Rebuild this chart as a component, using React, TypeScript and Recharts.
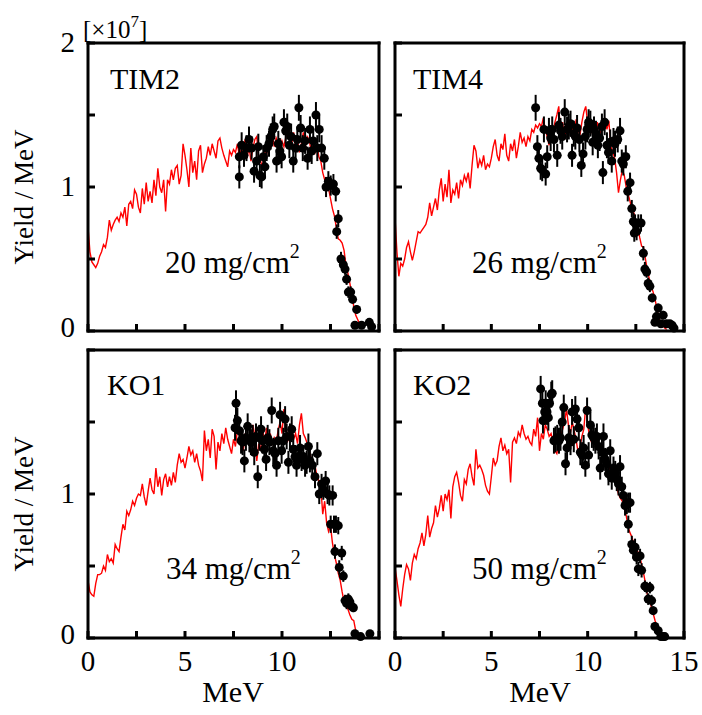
import React from 'react';
import { ComposedChart, Line, Scatter, ErrorBar, XAxis, YAxis } from 'recharts';

// simulated yield, one value per 0.1 MeV bin starting at 0 MeV (units of 1e7 / MeV)
const SIM_STEP = 0.1;

const tim2Sim = [
  0.72, 0.55, 0.48, 0.46, 0.44, 0.47, 0.52, 0.55, 0.60, 0.58,
  0.65, 0.77, 0.70, 0.74, 0.77, 0.79, 0.76, 0.82, 0.79, 0.86,
  0.73, 0.88, 0.90, 0.85, 0.98, 0.95, 0.86, 0.82, 0.99, 0.88,
  1.03, 0.90, 0.97, 0.89, 1.05, 0.94, 1.13, 1.00, 0.96, 1.05,
  0.83, 1.05, 1.02, 1.12, 1.05, 1.13, 1.15, 1.02, 1.08, 1.30,
  1.22, 1.12, 1.00, 1.27, 1.10, 1.18, 1.05, 1.25, 1.29, 1.10,
  1.16, 1.20, 1.28, 1.22, 1.30, 1.25, 1.20, 1.32, 1.34, 1.27,
  1.22, 1.18, 1.14, 1.25, 1.22, 1.26, 1.24, 1.30, 1.22, 1.26,
  1.25, 1.33, 1.20, 1.28, 1.18, 1.27, 1.33, 1.35, 1.20, 1.18,
  1.12, 1.28, 1.22, 1.30, 1.31, 1.36, 1.28, 1.34, 1.30, 1.25,
  1.32, 1.28, 1.35, 1.40, 1.36, 1.30, 1.38, 1.27, 1.33, 1.24,
  1.30, 1.38, 1.28, 1.35, 1.33, 1.25, 1.28, 1.24, 1.30, 1.21,
  1.18, 1.10, 1.05, 1.02, 0.99, 0.92, 0.85, 0.80, 0.72, 0.64,
  0.63, 0.61, 0.56, 0.45, 0.40, 0.33, 0.25, 0.17, 0.11, 0.08,
  0.05, 0.03, 0.02,
];

const tim4Sim = [
  0.79, 0.55, 0.38, 0.47, 0.45, 0.50, 0.58, 0.62, 0.55, 0.49,
  0.55, 0.62, 0.69, 0.68, 0.70, 0.72, 0.74, 0.79, 0.89, 0.80,
  0.86, 0.92, 0.84, 0.98, 1.06, 0.90, 1.02, 0.93, 1.12, 0.89,
  0.98, 0.95, 1.03, 0.92, 1.05, 1.01, 1.08, 1.04, 1.10, 0.99,
  1.15, 1.29, 1.25, 1.13, 1.19, 1.15, 1.22, 1.12, 1.16, 1.14,
  1.20, 1.28, 1.33, 1.22, 1.18, 1.30, 1.26, 1.37, 1.22, 1.18,
  1.30, 1.25, 1.33, 1.20, 1.28, 1.38, 1.31, 1.34, 1.28, 1.35,
  1.32, 1.40, 1.38, 1.43, 1.41, 1.44, 1.42, 1.48, 1.40, 1.35,
  1.29, 1.42, 1.38, 1.45, 1.50, 1.56, 1.35, 1.45, 1.33, 1.40,
  1.46, 1.38, 1.42, 1.35, 1.47, 1.40, 1.36, 1.45, 1.52, 1.56,
  1.45, 1.40, 1.38, 1.42, 1.35, 1.45, 1.40, 1.37, 1.44, 1.48,
  1.40, 1.46, 1.28, 1.25, 1.20, 1.10, 0.96, 1.05, 1.12, 1.08,
  1.00, 0.95, 0.90, 0.84, 0.82, 0.76, 0.72, 0.65, 0.59, 0.58,
  0.50, 0.42, 0.36, 0.31, 0.27, 0.22, 0.15, 0.09, 0.05, 0.04,
  0.02, 0.01,
];

const ko1Sim = [
  0.40, 0.32, 0.30, 0.29, 0.38, 0.44, 0.44, 0.45, 0.50, 0.47,
  0.58, 0.53, 0.55, 0.52, 0.65, 0.62, 0.60, 0.70, 0.79, 0.75,
  0.88, 0.85, 0.89, 0.95, 0.92, 0.97, 1.00, 0.99, 1.07, 0.98,
  0.92, 1.02, 1.11, 1.03, 1.00, 1.18, 1.05, 1.12, 0.99, 1.10,
  1.14, 1.05, 1.12, 1.06, 1.15, 1.08, 1.20, 1.28, 1.22, 1.24,
  1.18, 1.25, 1.33, 1.27, 1.30, 1.22, 1.28, 1.20, 1.16, 1.09,
  1.44, 1.30, 1.38, 1.25, 1.45, 1.40, 1.17, 1.36, 1.30, 1.42,
  1.35, 1.46, 1.38, 1.33, 1.28, 1.38, 1.33, 1.44, 1.46, 1.38,
  1.30, 1.42, 1.36, 1.40, 1.33, 1.48, 1.40, 1.23, 1.35, 1.30,
  1.46, 1.35, 1.46, 1.38, 1.42, 1.34, 1.39, 1.36, 1.44, 1.50,
  1.42, 1.59, 1.48, 1.37, 1.40, 1.45, 1.38, 1.42, 1.35, 1.48,
  1.56, 1.42, 1.39, 1.35, 1.30, 1.25, 1.18, 1.20, 1.12, 1.09,
  1.05, 0.86, 0.95, 0.80, 0.74, 0.78, 0.66, 0.58, 0.52, 0.45,
  0.40, 0.32, 0.25, 0.22, 0.20, 0.16, 0.13, 0.12, 0.05, 0.02,
  0.01,
];

const ko2Sim = [
  0.49, 0.40, 0.30, 0.22, 0.34, 0.44, 0.51, 0.48, 0.40, 0.52,
  0.58, 0.55, 0.62, 0.66, 0.73, 0.64, 0.72, 0.85, 0.70, 0.76,
  0.80, 0.92, 0.84, 0.90, 0.99, 0.88, 1.00, 0.96, 1.03, 0.83,
  1.05, 1.12, 1.15, 1.08, 0.99, 0.95, 1.10, 1.07, 1.17, 1.21,
  1.12, 1.06, 1.31, 1.18, 1.20, 1.17, 1.13, 1.06, 1.02, 1.00,
  1.12, 1.25, 1.20, 1.23, 1.33, 1.39, 1.30, 1.34, 1.28, 1.31,
  1.08, 1.36, 1.39, 1.35, 1.43, 1.40, 1.48, 1.42, 1.38, 1.40,
  1.36, 1.34, 1.45, 1.40, 1.53, 1.30, 1.42, 1.38, 1.48, 1.45,
  1.40, 1.42, 1.36, 1.30, 1.28, 1.35, 1.40, 1.45, 1.50, 1.59,
  1.48, 1.42, 1.50, 1.44, 1.38, 1.29, 1.33, 1.40, 1.45, 1.61,
  1.48, 1.40, 1.36, 1.38, 1.33, 1.36, 1.30, 1.28, 1.30, 1.24,
  1.22, 1.19, 1.16, 1.12, 1.09, 1.05, 1.00, 0.97, 0.95, 0.90,
  0.85, 0.77, 0.73, 0.70, 0.65, 0.62, 0.60, 0.57, 0.51, 0.45,
  0.38, 0.30, 0.27, 0.22, 0.17, 0.12, 0.08, 0.05, 0.02, 0.01,
  0.0,
];

// measured points: [energy MeV, yield, error]
const tim2Pts = [
  [7.80, 1.07, 0.08], [7.80, 1.21, 0.08], [7.92, 1.29, 0.09], [8.04, 1.22, 0.08], [8.17, 1.27, 0.09],
  [8.30, 1.33, 0.09], [8.43, 1.27, 0.08], [8.56, 1.11, 0.08], [8.69, 1.18, 0.08], [8.78, 1.28, 0.09],
  [8.86, 1.08, 0.08], [8.95, 1.07, 0.08], [9.04, 1.21, 0.08], [9.12, 1.14, 0.08], [9.21, 1.27, 0.09],
  [9.33, 1.30, 0.09], [9.42, 1.35, 0.09], [9.52, 1.40, 0.09], [9.60, 1.42, 0.09], [9.72, 1.18, 0.08],
  [9.81, 1.30, 0.09], [9.89, 1.25, 0.09], [9.98, 1.21, 0.08], [10.10, 1.45, 0.09], [10.19, 1.39, 0.09],
  [10.27, 1.42, 0.09], [10.38, 1.29, 0.09], [10.47, 1.35, 0.09], [10.58, 1.18, 0.08], [10.70, 1.27, 0.09],
  [10.79, 1.33, 0.09], [10.87, 1.55, 0.09], [10.96, 1.41, 0.09], [11.07, 1.27, 0.09], [11.19, 1.32, 0.09],
  [11.32, 1.20, 0.08], [11.44, 1.40, 0.09], [11.53, 1.25, 0.09], [11.61, 1.32, 0.09], [11.75, 1.50, 0.09],
  [11.82, 1.27, 0.09], [11.92, 1.40, 0.09], [12.04, 1.27, 0.09], [12.18, 1.20, 0.08], [12.27, 1.00, 0.07],
  [12.39, 1.04, 0.07], [12.51, 1.01, 0.07], [12.65, 1.02, 0.07], [12.77, 0.97, 0.07], [12.82, 0.69, 0.05],
  [12.90, 0.78, 0.06], [13.04, 0.50, 0.05], [13.16, 0.46, 0.05], [13.25, 0.43, 0.04], [13.33, 0.36, 0.04],
  [13.42, 0.27, 0.04], [13.54, 0.27, 0.04], [13.64, 0.22, 0.03], [13.76, 0.04, 0.02], [13.85, 0.15, 0.03],
  [14.10, 0.04, 0.02], [14.50, 0.06, 0.02], [14.62, 0.03, 0.02],
];

const tim4Pts = [
  [7.30, 1.55, 0.09], [7.39, 1.28, 0.08], [7.47, 1.20, 0.08], [7.56, 1.13, 0.08], [7.64, 1.12, 0.08],
  [7.73, 1.40, 0.09], [7.82, 1.09, 0.08], [7.90, 1.21, 0.08], [7.99, 1.39, 0.09], [8.08, 1.34, 0.09],
  [8.16, 1.40, 0.09], [8.25, 1.33, 0.09], [8.42, 1.22, 0.08], [8.51, 1.43, 0.09], [8.59, 1.39, 0.09],
  [8.68, 1.35, 0.09], [8.81, 1.52, 0.09], [8.93, 1.40, 0.09], [9.02, 1.42, 0.09], [9.11, 1.44, 0.09],
  [9.19, 1.22, 0.08], [9.28, 1.37, 0.09], [9.36, 1.35, 0.09], [9.45, 1.41, 0.09], [9.57, 1.33, 0.09],
  [9.67, 1.15, 0.08], [9.76, 1.23, 0.08], [9.88, 1.35, 0.09], [9.97, 1.40, 0.09], [10.05, 1.45, 0.09],
  [10.14, 1.44, 0.09], [10.26, 1.31, 0.09], [10.33, 1.40, 0.09], [10.43, 1.37, 0.09], [10.53, 1.29, 0.09],
  [10.62, 1.34, 0.09], [10.74, 1.42, 0.09], [10.79, 1.10, 0.08], [10.88, 1.45, 0.09], [11.00, 1.29, 0.09],
  [11.08, 1.24, 0.08], [11.17, 1.31, 0.09], [11.25, 1.18, 0.08], [11.34, 1.32, 0.09], [11.42, 1.30, 0.09],
  [11.56, 1.33, 0.09], [11.68, 1.39, 0.09], [11.77, 1.18, 0.08], [11.85, 1.16, 0.08], [11.98, 1.21, 0.08],
  [12.08, 0.97, 0.07], [12.20, 1.03, 0.07], [12.29, 0.85, 0.06], [12.37, 0.76, 0.06], [12.42, 0.68, 0.06],
  [12.46, 0.75, 0.06], [12.54, 0.69, 0.06], [12.63, 0.75, 0.06], [12.77, 0.75, 0.06], [12.89, 0.54, 0.05],
  [12.97, 0.43, 0.05], [13.06, 0.41, 0.04], [13.14, 0.33, 0.04], [13.23, 0.31, 0.04], [13.35, 0.23, 0.03],
  [13.49, 0.06, 0.02], [13.57, 0.10, 0.03], [13.66, 0.16, 0.03], [13.80, 0.05, 0.02], [13.92, 0.11, 0.03],
  [14.09, 0.05, 0.02], [14.26, 0.05, 0.02], [14.38, 0.04, 0.02], [14.48, 0.02, 0.02],
];

const ko1Pts = [
  [7.58, 1.46, 0.09], [7.63, 1.63, 0.09], [7.70, 1.51, 0.09], [7.80, 1.44, 0.09], [7.89, 1.37, 0.09],
  [7.97, 1.36, 0.09], [8.06, 1.23, 0.08], [8.14, 1.39, 0.09], [8.23, 1.47, 0.09], [8.32, 1.38, 0.09],
  [8.40, 1.36, 0.09], [8.49, 1.39, 0.09], [8.57, 1.29, 0.09], [8.66, 1.40, 0.09], [8.75, 1.12, 0.08],
  [8.83, 1.39, 0.09], [8.92, 1.45, 0.09], [9.00, 1.37, 0.09], [9.09, 1.31, 0.09], [9.18, 1.24, 0.08],
  [9.26, 1.39, 0.09], [9.35, 1.36, 0.09], [9.47, 1.58, 0.09], [9.55, 1.30, 0.09], [9.64, 1.28, 0.09],
  [9.72, 1.20, 0.08], [9.81, 1.37, 0.09], [9.90, 1.55, 0.09], [9.98, 1.30, 0.09], [10.07, 1.37, 0.09],
  [10.16, 1.52, 0.09], [10.24, 1.40, 0.09], [10.33, 1.22, 0.08], [10.41, 1.40, 0.09], [10.50, 1.45, 0.09],
  [10.58, 1.31, 0.09], [10.67, 1.26, 0.08], [10.75, 1.20, 0.08], [10.84, 1.26, 0.08], [10.93, 1.32, 0.09],
  [11.01, 1.24, 0.08], [11.10, 1.26, 0.08], [11.19, 1.20, 0.08], [11.27, 1.22, 0.08], [11.36, 1.33, 0.09],
  [11.44, 1.23, 0.08], [11.56, 1.20, 0.08], [11.70, 1.12, 0.08], [11.82, 1.28, 0.08], [11.92, 1.00, 0.07],
  [12.04, 1.07, 0.07], [12.13, 1.03, 0.07], [12.25, 1.09, 0.07], [12.35, 1.00, 0.07], [12.44, 0.99, 0.07],
  [12.51, 0.79, 0.06], [12.61, 0.99, 0.07], [12.68, 0.79, 0.06], [12.73, 0.60, 0.05], [12.78, 0.79, 0.06],
  [12.90, 0.78, 0.06], [12.95, 0.49, 0.05], [13.08, 0.59, 0.05], [13.16, 0.43, 0.04], [13.25, 0.26, 0.04],
  [13.33, 0.24, 0.04], [13.42, 0.27, 0.04], [13.50, 0.25, 0.04], [13.59, 0.22, 0.03], [13.68, 0.21, 0.03],
  [13.76, 0.03, 0.02], [14.05, 0.01, 0.01], [14.53, 0.03, 0.02],
];

const ko2Pts = [
  [7.56, 1.73, 0.09], [7.65, 1.63, 0.09], [7.68, 1.51, 0.09], [7.77, 1.57, 0.09], [7.82, 1.63, 0.09],
  [7.89, 1.57, 0.09], [7.96, 1.53, 0.09], [8.02, 1.63, 0.09], [8.11, 1.69, 0.09], [8.16, 1.70, 0.09],
  [8.25, 1.37, 0.09], [8.33, 1.38, 0.09], [8.42, 1.39, 0.09], [8.51, 1.37, 0.09], [8.59, 1.39, 0.09],
  [8.68, 1.50, 0.09], [8.76, 1.60, 0.09], [8.85, 1.21, 0.08], [8.93, 1.32, 0.09], [9.02, 1.39, 0.09],
  [9.11, 1.36, 0.09], [9.19, 1.57, 0.09], [9.28, 1.38, 0.09], [9.36, 1.59, 0.09], [9.45, 1.52, 0.09],
  [9.54, 1.46, 0.09], [9.62, 1.29, 0.09], [9.71, 1.27, 0.09], [9.79, 1.32, 0.09], [9.88, 1.20, 0.08],
  [9.97, 1.58, 0.09], [10.05, 1.27, 0.09], [10.14, 1.48, 0.09], [10.22, 1.41, 0.09], [10.31, 1.39, 0.09],
  [10.40, 1.37, 0.09], [10.48, 1.40, 0.09], [10.57, 1.33, 0.09], [10.65, 1.18, 0.08], [10.74, 1.29, 0.09],
  [10.82, 1.40, 0.09], [10.91, 1.24, 0.08], [11.00, 1.21, 0.08], [11.08, 1.14, 0.08], [11.17, 1.30, 0.08],
  [11.25, 1.11, 0.08], [11.34, 1.18, 0.08], [11.43, 1.15, 0.08], [11.51, 1.10, 0.08], [11.60, 1.07, 0.08],
  [11.68, 1.19, 0.08], [11.77, 1.05, 0.07], [11.85, 0.99, 0.07], [11.94, 0.92, 0.07], [12.03, 0.93, 0.07],
  [12.11, 0.94, 0.07], [12.11, 0.79, 0.06], [12.20, 0.94, 0.07], [12.29, 0.65, 0.06], [12.37, 0.61, 0.06],
  [12.46, 0.63, 0.06], [12.54, 0.56, 0.05], [12.63, 0.48, 0.05], [12.72, 0.57, 0.05], [12.80, 0.47, 0.05],
  [12.97, 0.36, 0.04], [13.06, 0.35, 0.04], [13.14, 0.27, 0.04], [13.23, 0.35, 0.04], [13.32, 0.26, 0.04],
  [13.40, 0.19, 0.03], [13.49, 0.08, 0.03], [13.66, 0.05, 0.02], [13.80, 0.01, 0.01], [13.92, 0.01, 0.01],
  [14.00, 0.01, 0.01],
];

const xTicks = [0, 2.5, 5, 7.5, 10, 12.5, 15];
const yTicks = [0, 0.5, 1, 1.5, 2];

const FONT = 'Liberation Serif';
const TICK = 7;
const frame = { stroke: '#000', strokeWidth: 3, strokeLinecap: 'square' as const };

const Dot = (p: any) => <circle cx={p.cx} cy={p.cy} r={4.5} fill="#000" />;

interface PanelProps {
  left: number; // plot area left
  top: number; // plot area top
  w: number;
  h: number;
  mL: number;
  mR: number;
  sim: number[];
  pts: number[][];
  xLabels: number[];
  yLabels: number[];
}

const Panel = ({ left, top, w, h, mL, mR, sim, pts, xLabels, yLabels }: PanelProps) => {
  const mT = 22;
  const mB = xLabels.length ? 45 : 14;
  const simData = sim.map((y, i) => ({ e: Math.round(i * SIM_STEP * 10) / 10, y }));
  const ptData = pts.map(([e, y, err]) => ({ e, y, err }));

  const bottomTick = (p: any) => (
    <g>
      <line x1={p.x} x2={p.x} y1={p.y} y2={p.y - TICK} stroke="#000" strokeWidth={3} />
      {xLabels.includes(p.payload.value) && (
        <text x={p.x} y={p.y + 33} textAnchor="middle" fontSize={29} fontFamily={FONT} fill="#000">
          {p.payload.value}
        </text>
      )}
    </g>
  );
  const topTick = (p: any) => (
    <line x1={p.x} x2={p.x} y1={p.y} y2={p.y + TICK} stroke="#000" strokeWidth={3} />
  );
  const leftTick = (p: any) => (
    <g>
      <line x1={p.x} x2={p.x + TICK} y1={p.y} y2={p.y} stroke="#000" strokeWidth={3} />
      {yLabels.includes(p.payload.value) && (
        <text
          x={p.x - 13}
          y={p.y + (p.payload.value === 0 ? 6 : 9)}
          textAnchor="end"
          fontSize={29}
          fontFamily={FONT}
          fill="#000"
        >
          {p.payload.value}
        </text>
      )}
    </g>
  );
  const rightTick = (p: any) => (
    <line x1={p.x} x2={p.x - TICK} y1={p.y} y2={p.y} stroke="#000" strokeWidth={3} />
  );

  return (
    <div style={{ position: 'absolute', left: left - mL, top: top - mT }}>
      <ComposedChart
        width={w + mL + mR}
        height={h + mT + mB}
        margin={{ top: 0, right: 0, bottom: 0, left: 0 }}
      >
        <XAxis
          xAxisId="b"
          type="number"
          dataKey="e"
          domain={[0, 15]}
          ticks={xTicks}
          interval={0}
          height={mB}
          tickSize={0}
          tickMargin={0}
          tickLine={false}
          axisLine={frame}
          tick={bottomTick}
        />
        <XAxis
          xAxisId="t"
          orientation="top"
          type="number"
          domain={[0, 15]}
          ticks={xTicks}
          interval={0}
          height={mT}
          tickSize={0}
          tickMargin={0}
          tickLine={false}
          axisLine={frame}
          tick={topTick}
        />
        <YAxis
          yAxisId="l"
          type="number"
          dataKey="y"
          domain={[0, 2]}
          ticks={yTicks}
          interval={0}
          width={mL}
          tickSize={0}
          tickMargin={0}
          tickLine={false}
          axisLine={frame}
          tick={leftTick}
        />
        <YAxis
          yAxisId="r"
          orientation="right"
          type="number"
          domain={[0, 2]}
          ticks={yTicks}
          interval={0}
          width={mR}
          tickSize={0}
          tickMargin={0}
          tickLine={false}
          axisLine={frame}
          tick={rightTick}
        />
        <Line
          xAxisId="b"
          yAxisId="l"
          data={simData}
          dataKey="y"
          type="linear"
          stroke="#ff0000"
          strokeWidth={1.4}
          dot={false}
          activeDot={false}
          isAnimationActive={false}
        />
        <Scatter
          xAxisId="b"
          yAxisId="l"
          data={ptData}
          dataKey="y"
          fill="#000"
          shape={Dot}
          isAnimationActive={false}
        >
          <ErrorBar dataKey="err" direction="y" width={0} stroke="#000" strokeWidth={2} isAnimationActive={false} />
        </Scatter>
      </ComposedChart>
    </div>
  );
};

const txt: React.CSSProperties = {
  position: 'absolute',
  fontFamily: FONT,
  lineHeight: 1,
  whiteSpace: 'nowrap',
  color: '#000',
};

const PanelText = ({ x, y, size = 30, children }: { x: number; y: number; size?: number; children: React.ReactNode }) => (
  // y is the baseline
  <div style={{ ...txt, left: x, top: y - 0.8375 * size, fontSize: size }}>{children}</div>
);

const Thickness = ({ x, y, value }: { x: number; y: number; value: string }) => (
  <PanelText x={x} y={y} size={31}>
    {value} mg/cm<span style={{ fontSize: 20, position: 'relative', top: -15 }}>2</span>
  </PanelText>
);

const YTitle = ({ cy }: { cy: number }) => (
  <div
    style={{
      ...txt,
      left: 24,
      top: cy,
      fontSize: 27,
      transform: 'translate(-50%, -50%) rotate(-90deg)',
    }}
  >
    Yield / MeV
  </div>
);

const XTitle = ({ cx }: { cx: number }) => (
  <div style={{ ...txt, left: cx, top: 702 - 0.8375 * 30, fontSize: 30, transform: 'translateX(-50%)' }}>MeV</div>
);

export default function App() {
  return (
    <div style={{ position: 'absolute', left: 0, top: 0, width: 702, height: 715, background: '#fff', overflow: 'hidden' }}>
      <Panel left={88} top={43} w={291} h={288} mL={88} mR={8} sim={tim2Sim} pts={tim2Pts} xLabels={[]} yLabels={[0, 1, 2]} />
      <Panel left={395} top={43} w={289} h={288} mL={8} mR={18} sim={tim4Sim} pts={tim4Pts} xLabels={[]} yLabels={[]} />
      <Panel left={88} top={350} w={291} h={288} mL={88} mR={8} sim={ko1Sim} pts={ko1Pts} xLabels={[0, 5, 10]} yLabels={[0, 1]} />
      <Panel left={395} top={350} w={289} h={288} mL={8} mR={18} sim={ko2Sim} pts={ko2Pts} xLabels={[0, 5, 10, 15]} yLabels={[]} />

      <div style={{ ...txt, left: 83, top: 38 - 0.8375 * 25, fontSize: 25 }}>
        [×10<span style={{ fontSize: 17, position: 'relative', top: -11 }}>7</span>]
      </div>

      <PanelText x={110} y={89}>TIM2</PanelText>
      <PanelText x={413} y={89}>TIM4</PanelText>
      <PanelText x={107} y={395}>KO1</PanelText>
      <PanelText x={413} y={395}>KO2</PanelText>

      <Thickness x={165} y={273} value="20" />
      <Thickness x={472} y={273} value="26" />
      <Thickness x={166} y={579} value="34" />
      <Thickness x={472} y={579} value="50" />

      <YTitle cy={197} />
      <YTitle cy={504} />
      <XTitle cx={233} />
      <XTitle cx={540} />
    </div>
  );
}
